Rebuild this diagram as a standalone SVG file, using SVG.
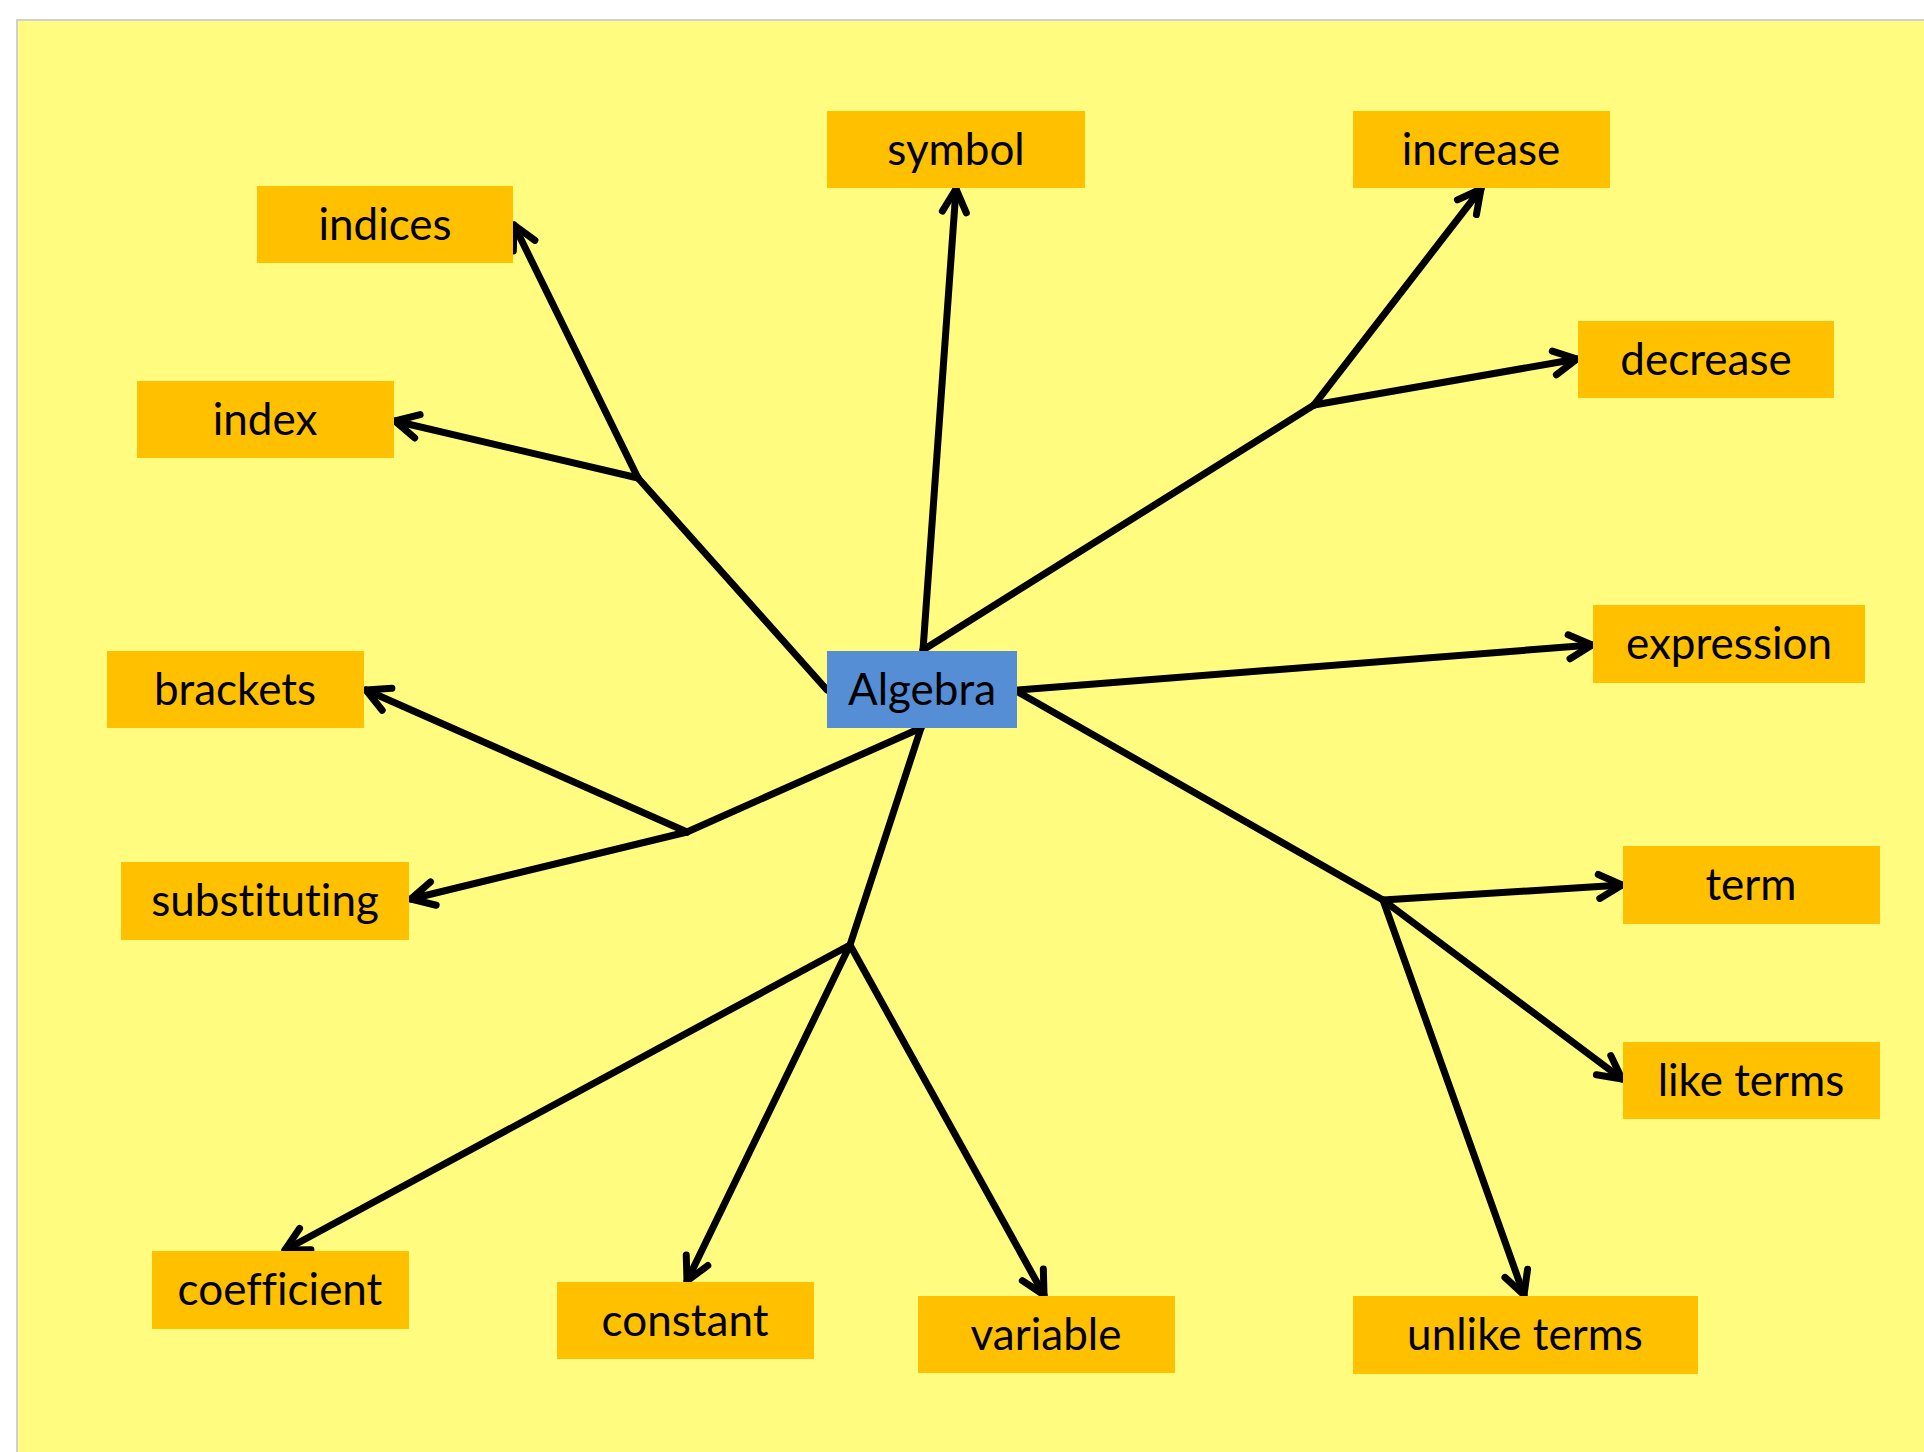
<svg xmlns="http://www.w3.org/2000/svg" width="1924" height="1452" viewBox="0 0 1924 1452">
<style>
.box{fill:#FFC000}
.hub{fill:#558ED5}
.lbl{font-family:Lato,"Open Sans","Liberation Sans",sans-serif;font-size:44px;fill:#000;text-anchor:middle;font-variant-ligatures:none}
.c{stroke:#000;stroke-width:7;fill:none;stroke-linecap:round;stroke-linejoin:round}
.a{marker-end:url(#arr)}
</style>
<defs>
<marker id="arr" markerUnits="userSpaceOnUse" viewBox="-30 -20 40 40" markerWidth="40" markerHeight="40" refX="0" refY="0" orient="auto">
<path d="M -23 -12 L 0 0 L -23 12" fill="none" stroke="#000" stroke-width="7" stroke-linecap="round" stroke-linejoin="round"/>
</marker>
</defs>
<rect x="0" y="0" width="1924" height="1452" fill="#fff"/>
<rect x="17" y="20" width="1920" height="1440" fill="#FFFC7F" stroke="#d0d0d0" stroke-width="2"/>
<g id="connectors">
<path class="c a" d="M 923 650 L 956 189"/>
<path class="c" d="M 923 650 L 1314 405"/>
<path class="c a" d="M 1314 405 L 1481 189"/>
<path class="c a" d="M 1314 405 L 1577 359"/>
<path class="c a" d="M 1018 690 L 1592 645"/>
<path class="c" d="M 1018 692 L 1383 900"/>
<path class="c a" d="M 1383 900 L 1622 885"/>
<path class="c a" d="M 1383 900 L 1622 1079"/>
<path class="c a" d="M 1383 900 L 1524 1295"/>
<path class="c" d="M 921 728 L 850 945"/>
<path class="c a" d="M 850 945 L 285 1250"/>
<path class="c a" d="M 850 945 L 687 1281"/>
<path class="c a" d="M 850 945 L 1044 1295"/>
<path class="c" d="M 921 728 L 687 832"/>
<path class="c a" d="M 687 832 L 366 690"/>
<path class="c a" d="M 687 832 L 411 899"/>
<path class="c" d="M 827 690 L 638 478"/>
<path class="c a" d="M 638 478 L 514 225"/>
<path class="c a" d="M 638 478 L 395 421"/>
</g>
<g id="algebra"><rect class="hub" x="827" y="651" width="190" height="77"/><text class="lbl" x="922" y="705">Algebra</text></g>
<g id="symbol"><rect class="box" x="827" y="111" width="258" height="77"/><text class="lbl" x="956" y="165">symbol</text></g>
<g id="increase"><rect class="box" x="1353" y="111" width="257" height="77"/><text class="lbl" x="1481" y="165">increase</text></g>
<g id="decrease"><rect class="box" x="1578" y="321" width="256" height="77"/><text class="lbl" x="1706" y="375">decrease</text></g>
<g id="expression"><rect class="box" x="1593" y="605" width="272" height="78"/><text class="lbl" x="1729" y="659">expression</text></g>
<g id="indices"><rect class="box" x="257" y="186" width="256" height="77"/><text class="lbl" x="385" y="240">indices</text></g>
<g id="index"><rect class="box" x="137" y="381" width="257" height="77"/><text class="lbl" x="265" y="435">index</text></g>
<g id="brackets"><rect class="box" x="107" y="651" width="257" height="77"/><text class="lbl" x="235" y="705">brackets</text></g>
<g id="substituting"><rect class="box" x="121" y="862" width="288" height="78"/><text class="lbl" x="265" y="916">substituting</text></g>
<g id="coefficient"><rect class="box" x="152" y="1251" width="257" height="78"/><text class="lbl" x="280" y="1305">coefficient</text></g>
<g id="constant"><rect class="box" x="557" y="1282" width="257" height="77"/><text class="lbl" x="685" y="1336">constant</text></g>
<g id="variable"><rect class="box" x="918" y="1296" width="257" height="77"/><text class="lbl" x="1046" y="1350">variable</text></g>
<g id="unlike-terms"><rect class="box" x="1353" y="1296" width="345" height="78"/><text class="lbl" x="1525" y="1350">unlike terms</text></g>
<g id="term"><rect class="box" x="1623" y="846" width="257" height="78"/><text class="lbl" x="1751" y="900">term</text></g>
<g id="like-terms"><rect class="box" x="1623" y="1042" width="257" height="77"/><text class="lbl" x="1751" y="1096">like terms</text></g>
</svg>
